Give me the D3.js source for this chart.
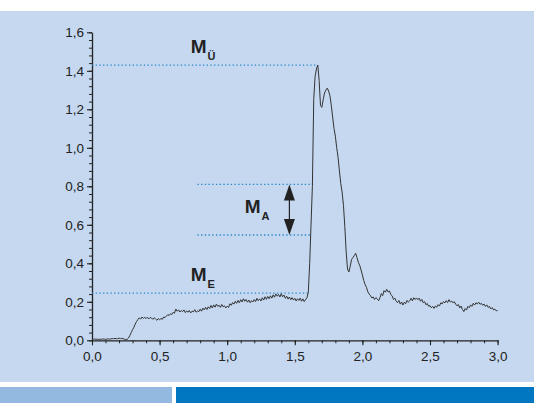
<!DOCTYPE html>
<html><head><meta charset="utf-8">
<script src="https://cdn.jsdelivr.net/npm/d3@7"></script>
<style>html,body{margin:0;padding:0;background:#fff;}svg{display:block;}</style>
</head><body>
<svg id="c" width="534" height="403"></svg>
<script>
// ---- data ----
const xStart = 0, xStep = 0.01;
const yValues = [
0.006,0.005,0.007,0.005,0.006,0.004,0.006,0.005,0.007,0.006,
0.005,0.006,0.008,0.006,0.007,0.009,0.008,0.010,0.008,0.009,
0.011,0.009,0.010,0.008,0.006,0.004,0.005,0.012,0.025,0.040,
0.055,0.068,0.085,0.098,0.108,0.117,0.110,0.121,0.114,0.119,
0.113,0.120,0.111,0.118,0.116,0.109,0.117,0.111,0.104,0.113,
0.106,0.114,0.109,0.121,0.118,0.126,0.133,0.129,0.138,0.134,
0.145,0.141,0.162,0.151,0.158,0.147,0.155,0.149,0.158,0.144,
0.152,0.146,0.155,0.142,0.151,0.148,0.159,0.146,0.153,0.149,
0.162,0.151,0.167,0.158,0.171,0.160,0.174,0.165,0.181,0.168,
0.184,0.172,0.188,0.176,0.182,0.171,0.186,0.174,0.179,0.168,
0.177,0.171,0.190,0.182,0.196,0.188,0.203,0.192,0.207,0.195,
0.211,0.199,0.216,0.203,0.212,0.198,0.209,0.195,0.206,0.199,
0.212,0.201,0.218,0.206,0.215,0.204,0.221,0.209,0.226,0.213,
0.228,0.216,0.231,0.219,0.236,0.224,0.241,0.229,0.238,0.225,
0.242,0.226,0.235,0.218,0.229,0.214,0.225,0.211,0.222,0.209,
0.218,0.204,0.216,0.207,0.219,0.203,0.215,0.201,0.212,0.221,
0.250,0.400,0.600,0.800,1.250,1.370,1.410,1.430,1.350,1.220,
1.210,1.250,1.285,1.300,1.310,1.295,1.270,1.220,1.160,1.100,
1.060,1.000,0.950,0.880,0.815,0.770,0.700,0.590,0.460,0.370,
0.355,0.385,0.420,0.430,0.440,0.452,0.430,0.405,0.390,0.365,
0.340,0.310,0.290,0.275,0.252,0.240,0.232,0.220,0.225,0.212,
0.222,0.215,0.206,0.221,0.243,0.232,0.258,0.250,0.265,0.251,
0.256,0.238,0.231,0.212,0.219,0.203,0.196,0.207,0.188,0.199,
0.183,0.198,0.190,0.207,0.198,0.205,0.219,0.205,0.221,0.212,
0.220,0.211,0.219,0.203,0.212,0.195,0.201,0.185,0.191,0.177,
0.180,0.169,0.176,0.166,0.178,0.172,0.185,0.178,0.195,0.189,
0.201,0.194,0.206,0.196,0.211,0.199,0.204,0.195,0.200,0.188,
0.179,0.186,0.168,0.178,0.160,0.149,0.165,0.157,0.176,0.169,
0.184,0.176,0.192,0.183,0.195,0.189,0.198,0.187,0.192,0.182,
0.188,0.176,0.184,0.171,0.176,0.163,0.170,0.158,0.162,0.153,
0.155
];
const xTickLabels = ["0,0","0,5","1,0","1,5","2,0","2,5","3,0"];
const xMajor = [0,0.5,1.0,1.5,2.0,2.5,3.0];
const yTickLabels = ["0,0","0,2","0,4","0,6","0,8","1,0","1,2","1,4","1,6"];
const yMajor = [0,0.2,0.4,0.6,0.8,1.0,1.2,1.4,1.6];
// reference lines: level, x from, x to
const refLevels = [1.43, 0.81, 0.547, 0.245];
const refFrom   = [0, 0.78, 0.78, 0];
const refTo     = [1.67, 1.635, 1.62, 1.605];
const labelMain = ["M","M","M"];
const labelSub  = ["Ü","A","E"];
const labelX    = [0.73, 1.13, 0.73];
const labelY    = [1.495, 0.66, 0.31];
const arrowX = 1.46, arrowTop = 0.81, arrowBottom = 0.547;

// ---- drawing ----
const svg = d3.select("#c");
svg.append("rect").attr("x",0).attr("y",11).attr("width",534).attr("height",371).attr("fill","#c5d8ef");
svg.append("rect").attr("x",0).attr("y",387).attr("width",172).attr("height",16).attr("fill","#94b9e1");
svg.append("rect").attr("x",176).attr("y",387).attr("width",358).attr("height",16).attr("fill","#0077c0");

const x = d3.scaleLinear().domain([0,3]).range([92,497.6]);
const y = d3.scaleLinear().domain([0,1.6]).range([340.3,32.3]);

const font = "'Liberation Sans', Arial, Helvetica, sans-serif";

// minor ticks
const xMinor = d3.range(0,31).map(i=>i/10);
const yMinor = d3.range(0,41).map(i=>i*0.04);
svg.append("g").attr("transform",`translate(0,${y(0)})`)
  .call(d3.axisBottom(x).tickValues(xMinor).tickSize(3).tickFormat(""))
  .call(g=>g.select(".domain").remove())
  .selectAll("line").attr("stroke","#222");
svg.append("g").attr("transform",`translate(${x(0)},0)`)
  .call(d3.axisLeft(y).tickValues(yMinor).tickSize(3).tickFormat(""))
  .call(g=>g.select(".domain").remove())
  .selectAll("line").attr("stroke","#222");

const xa = svg.append("g").attr("transform",`translate(0,${y(0)})`)
  .call(d3.axisBottom(x).tickValues(xMajor).tickSize(5).tickSizeOuter(0).tickPadding(6)
        .tickFormat((d,i)=>xTickLabels[i]));
const ya = svg.append("g").attr("transform",`translate(${x(0)},0)`)
  .call(d3.axisLeft(y).tickValues(yMajor).tickSize(5).tickSizeOuter(0).tickPadding(3)
        .tickFormat((d,i)=>yTickLabels[i]));
[xa,ya].forEach(g=>{
  g.select(".domain").attr("stroke","#222").attr("stroke-width",1.3);
  g.selectAll(".tick line").attr("stroke","#222").attr("stroke-width",1.1);
  g.selectAll("text").attr("fill","#222").style("font-family",font).style("font-size","13.5px");
});

// reference dotted lines
refLevels.forEach((lv,i)=>{
  svg.append("line").attr("x1",x(refFrom[i])).attr("x2",x(refTo[i]))
    .attr("y1",y(lv)).attr("y2",y(lv))
    .attr("stroke","#1f86d0").attr("stroke-width",1.3)
    .attr("stroke-dasharray","1.3,2.4");
});

// curve
const pts = yValues.map((v,i)=>[xStart+i*xStep, v]);
svg.append("path").datum(pts)
  .attr("fill","none").attr("stroke","#333").attr("stroke-width",1)
  .attr("stroke-linejoin","round")
  .attr("d", d3.line().x(d=>x(d[0])).y(d=>y(d[1])));

// double arrow
const ax = x(arrowX), aT = y(arrowTop), aB = y(arrowBottom);
svg.append("line").attr("x1",ax).attr("x2",ax).attr("y1",aT+10).attr("y2",aB-10)
  .attr("stroke","#222").attr("stroke-width",1.2);
svg.append("path").attr("d",`M${ax},${aT} L${ax-5.5},${aT+16} L${ax+5.5},${aT+16} Z`).attr("fill","#222");
svg.append("path").attr("d",`M${ax},${aB} L${ax-5.5},${aB-16} L${ax+5.5},${aB-16} Z`).attr("fill","#222");

// labels
labelMain.forEach((m,i)=>{
  const t = svg.append("text").attr("x",x(labelX[i])).attr("y",y(labelY[i]))
    .style("font-family",font).style("font-weight","bold").attr("fill","#222");
  t.append("tspan").style("font-size","19px").text(m);
  t.append("tspan").style("font-size","11px").attr("dx",1).attr("dy",7).text(labelSub[i]);
});
</script>
</body></html>
